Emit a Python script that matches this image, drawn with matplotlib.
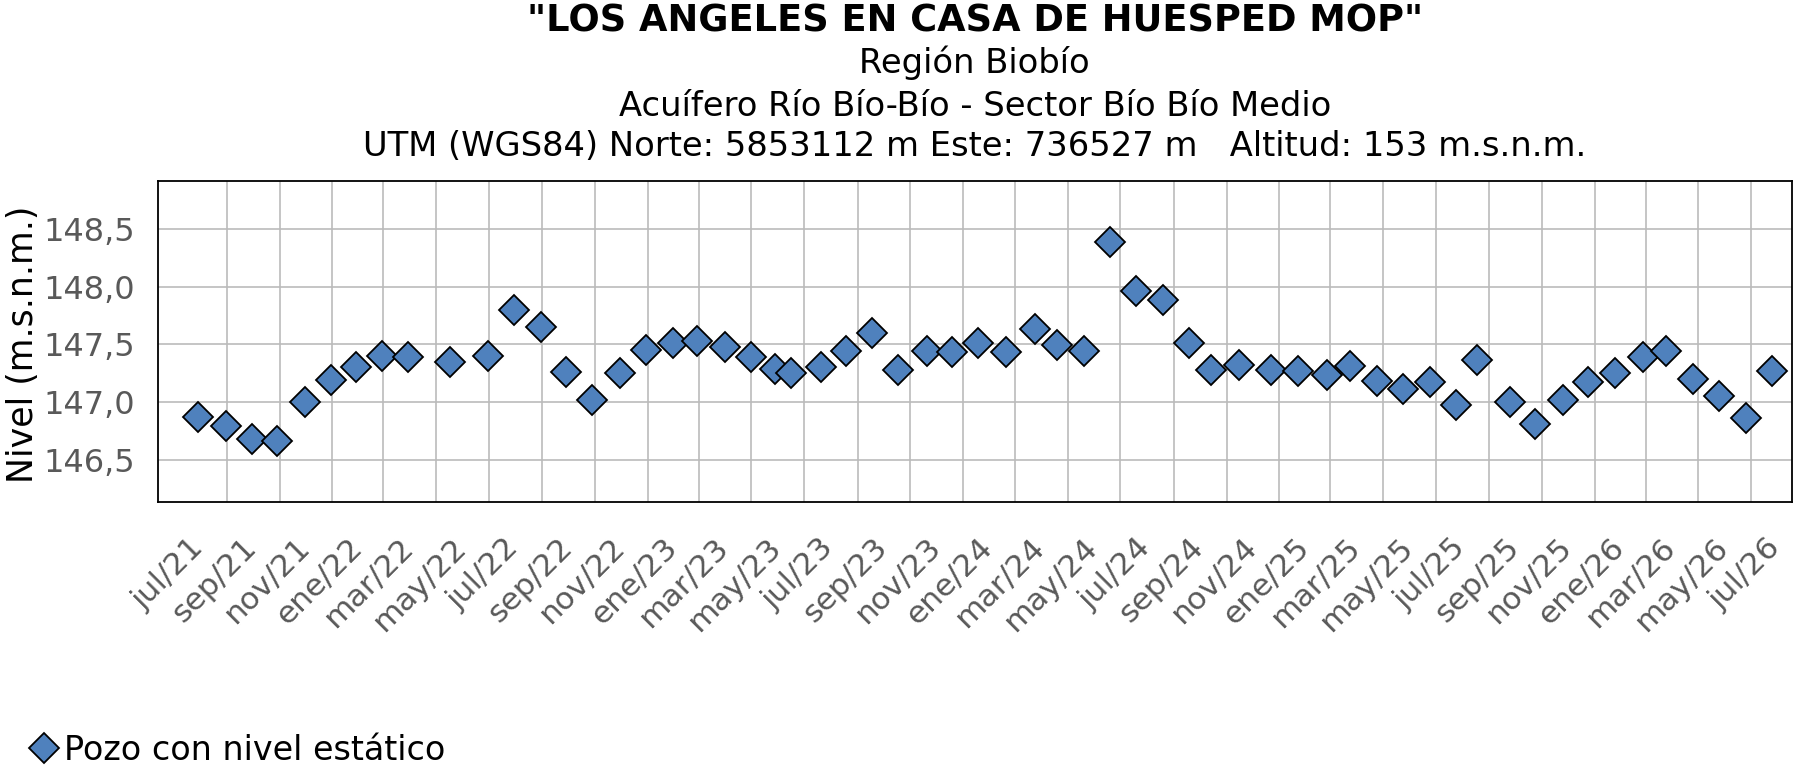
import matplotlib
matplotlib.use("Agg")
import matplotlib.pyplot as plt
import matplotlib.transforms as mtransforms
import pandas as pd

# fechas de medicion y nivel estatico (m.s.n.m.)
fechas = ['2021-07-30', '2021-08-31', '2021-09-30', '2021-10-29', '2021-11-30', '2021-12-30',
          '2022-01-28', '2022-02-28', '2022-03-30', '2022-05-17', '2022-06-30', '2022-07-30',
          '2022-08-31', '2022-09-28', '2022-10-28', '2022-11-30', '2022-12-30', '2023-01-30',
          '2023-02-27', '2023-03-31', '2023-04-30', '2023-05-28', '2023-06-16', '2023-07-20',
          '2023-08-18', '2023-09-18', '2023-10-18', '2023-11-20', '2023-12-19', '2024-01-18',
          '2024-02-20', '2024-03-24', '2024-04-19', '2024-05-20', '2024-06-19', '2024-07-19',
          '2024-08-19', '2024-09-19', '2024-10-14', '2024-11-15', '2024-12-23', '2025-01-23',
          '2025-02-25', '2025-03-24', '2025-04-24', '2025-05-24', '2025-06-25', '2025-07-25',
          '2025-08-18', '2025-09-25', '2025-10-24', '2025-11-25', '2025-12-24', '2026-01-25',
          '2026-02-26', '2026-03-25', '2026-04-25', '2026-05-25', '2026-06-25', '2026-07-25']
nivel = [146.87, 146.79, 146.68, 146.66, 147.00, 147.19,
         147.30, 147.40, 147.39, 147.35, 147.40, 147.80,
         147.65, 147.26, 147.02, 147.25, 147.45, 147.51,
         147.53, 147.48, 147.39, 147.29, 147.25, 147.30,
         147.44, 147.60, 147.28, 147.44, 147.43, 147.51,
         147.43, 147.635, 147.49, 147.44, 148.39, 147.96,
         147.88, 147.51, 147.28, 147.32, 147.28, 147.27,
         147.23, 147.31, 147.18, 147.11, 147.17, 146.97,
         147.36, 147.00, 146.81, 147.02, 147.17, 147.25,
         147.39, 147.44, 147.20, 147.05, 146.86, 147.27]

tick_fechas = pd.date_range('2021-07-01', '2026-07-01', freq='2MS')
tick_labels = ['jul/21', 'sep/21', 'nov/21', 'ene/22', 'mar/22', 'may/22', 'jul/22', 'sep/22',
               'nov/22', 'ene/23', 'mar/23', 'may/23', 'jul/23', 'sep/23', 'nov/23', 'ene/24',
               'mar/24', 'may/24', 'jul/24', 'sep/24', 'nov/24', 'ene/25', 'mar/25', 'may/25',
               'jul/25', 'sep/25', 'nov/25', 'ene/26', 'mar/26', 'may/26', 'jul/26']
y_ticks = [146.5, 147.0, 147.5, 148.0, 148.5]
y_labels = ['146,5', '147,0', '147,5', '148,0', '148,5']

W, H = 1797, 767
fig = plt.figure(figsize=(W / 100, H / 100), dpi=100)
ax = fig.add_axes([157.5 / W, 1 - 502 / H, (1792 - 157.5) / W, (502 - 181) / H])

puntos, = ax.plot(pd.to_datetime(fechas), nivel, linestyle='none', marker='D', ms=15.5,
                  mfc='#4F81BD', mec='black', mew=1.3, zorder=3, clip_on=False,
                  label='Pozo con nivel estático')

ax.set_xlim(pd.Timestamp('2021-06-12 14:00'), pd.Timestamp('2026-08-17 12:00'))
ax.set_ylim(146.133, 148.916)

ax.set_xticks(tick_fechas)
ax.set_xticklabels(tick_labels)
ax.set_yticks(y_ticks)
ax.set_yticklabels(y_labels)

ax.grid(True, color='#BBBBBB', lw=1.2, zorder=0)
ax.set_axisbelow(True)
ax.xaxis.get_gridlines()[0].set_visible(False)

for s in ax.spines.values():
    s.set_linewidth(1.3)
    s.set_color('black')

ax.tick_params(axis='both', length=0, labelcolor='#595959')
ax.tick_params(axis='y', pad=16, labelsize=23)
ax.tick_params(axis='x', pad=22, labelsize=22.5)

desplaza = mtransforms.ScaledTranslation(15 / 100, 0, fig.dpi_scale_trans)
for lbl in ax.get_xticklabels():
    lbl.set_rotation(45)
    lbl.set_ha('right')
    lbl.set_va('top')
    lbl.set_rotation_mode('anchor')
    lbl.set_transform(lbl.get_transform() + desplaza)

xc = (157.5 + 1792) / 2 / W
fig.text(xc, 1 - 21 / H, '"LOS ANGELES EN CASA DE HUESPED MOP"', ha='center', va='center',
         fontsize=26.5, fontweight='bold')
fig.text(xc, 1 - 63 / H, 'Región Biobío', ha='center', va='center', fontsize=24.3)
fig.text(xc, 1 - 107 / H, 'Acuífero Río Bío-Bío - Sector Bío Bío Medio', ha='center',
         va='center', fontsize=24.3)
fig.text(xc, 1 - 147 / H, 'UTM (WGS84) Norte: 5853112 m Este: 736527 m   Altitud: 153 m.s.n.m.',
         ha='center', va='center', fontsize=24.3)

fig.text(23 / W, 1 - 344 / H, 'Nivel (m.s.n.m.)', rotation=90, ha='center', va='center',
         fontsize=25)

fig.legend(handles=[puntos], loc='center left', bbox_to_anchor=(27 / W, 1 - 750 / H),
           frameon=False, fontsize=24, handlelength=1.0, handletextpad=0.1,
           borderaxespad=0, borderpad=0)

fig.savefig('out.png', dpi=100)
